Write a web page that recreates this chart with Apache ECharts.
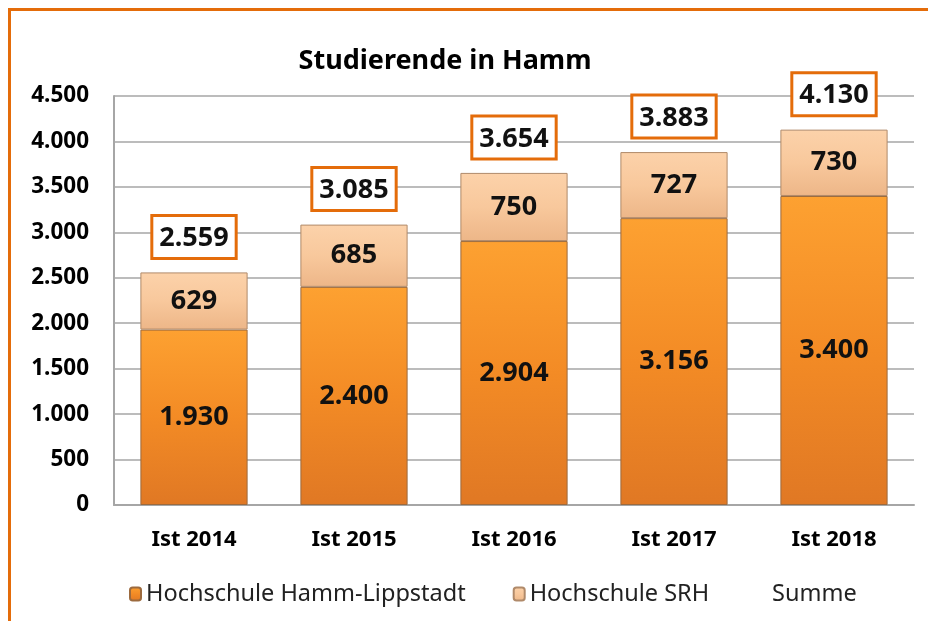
<!DOCTYPE html>
<html lang="de">
<head>
<meta charset="UTF-8">
<title>Studierende in Hamm</title>
<script src="https://cdn.jsdelivr.net/npm/echarts@6/dist/echarts.min.js"></script>
<style>
  html, body { margin: 0; padding: 0; background: #fff; }
  #frame { position: absolute; left: 8px; top: 8px; width: 940px; height: 640px; border: 3px solid #E46C0A; box-sizing: border-box; }
  #main { position: absolute; left: 0; top: 0; width: 928px; height: 621px; }
</style>
</head>
<body>
<div id="frame"></div>
<div id="main"></div>
<script type="text/javascript">
  var years = ['Ist 2014', 'Ist 2015', 'Ist 2016', 'Ist 2017', 'Ist 2018'];
  var hammLippstadt = [1930, 2400, 2904, 3156, 3400];
  var srh = [629, 685, 750, 727, 730];
  var summe = [2559, 3085, 3654, 3883, 4130];

  var font = '"Noto Sans", sans-serif';

  function de(v) {
    return String(v).replace(/\B(?=(\d{3})+(?!\d))/g, '.');
  }

  var myChart = echarts.init(document.getElementById('main'));

  var option = {
    animation: false,
    title: {
      text: 'Studierende in Hamm',
      left: 440,
      textAlign: 'center',
      top: 43,
      textStyle: { fontFamily: font, fontSize: 27, fontWeight: 'bold', color: '#000' }
    },
    grid: { left: 114, right: 14, top: 96, bottom: 116 },
    legend: {
      left: 124,
      top: 577,
      itemWidth: 11,
      itemHeight: 13,
      itemGap: 47,
      textStyle: { fontFamily: font, fontSize: 23.5, color: '#222' },
      data: [
        { name: 'Hochschule Hamm-Lippstadt' },
        { name: 'Hochschule SRH' },
        { name: 'Summe', icon: 'none' }
      ]
    },
    xAxis: {
      type: 'category',
      data: years,
      axisLine: { lineStyle: { color: '#a6a6a6', width: 2 } },
      axisTick: { show: false },
      axisLabel: { margin: 24, fontFamily: font, fontSize: 22, fontWeight: 'bold', color: '#000' }
    },
    yAxis: {
      type: 'value',
      min: 0,
      max: 4500,
      interval: 500,
      axisLine: { show: true, lineStyle: { color: '#a6a6a6', width: 2 } },
      axisTick: { show: false },
      splitLine: { lineStyle: { color: '#a6a6a6', width: 1.5 } },
      axisLabel: {
        margin: 25,
        fontFamily: font, fontSize: 22.5, fontWeight: 'bold', color: '#000',
        formatter: function (v) { return de(v); }
      }
    },
    series: [
      {
        name: 'Hochschule Hamm-Lippstadt',
        type: 'bar',
        stack: 'total',
        barWidth: '67%',
        data: hammLippstadt,
        itemStyle: {
          color: new echarts.graphic.LinearGradient(0, 0, 0, 1, [
            { offset: 0, color: '#FDA131' },
            { offset: 0.5, color: '#F38B25' },
            { offset: 1, color: '#E07824' }
          ]),
          borderColor: '#9C6A3E',
          borderWidth: 1
        },
        label: {
          show: true,
          position: 'inside',
          fontFamily: font, fontSize: 27, fontWeight: 'bold', color: '#111',
          formatter: function (p) { return de(p.value); }
        }
      },
      {
        name: 'Hochschule SRH',
        type: 'bar',
        stack: 'total',
        data: srh,
        itemStyle: {
          color: new echarts.graphic.LinearGradient(0, 0, 0, 1, [
            { offset: 0, color: '#FCD2AA' },
            { offset: 0.5, color: '#F8C89C' },
            { offset: 1, color: '#EDB688' }
          ]),
          borderColor: '#B08A6A',
          borderWidth: 1
        },
        label: {
          show: true,
          position: 'inside',
          fontFamily: font, fontSize: 27, fontWeight: 'bold', color: '#111',
          formatter: function (p) { return de(p.value); }
        }
      },
      {
        name: 'Summe',
        type: 'scatter',
        data: summe,
        symbol: 'circle',
        symbolSize: 1,
        itemStyle: { color: 'rgba(0,0,0,0)', opacity: 1 },
        z: 5,
        label: {
          show: true,
          position: 'top',
          distance: 15,
          opacity: 1,
          fontFamily: font, fontSize: 27, fontWeight: 'bold', color: '#111',
          textBorderWidth: 0,
          textBorderColor: 'transparent',
          backgroundColor: '#fff',
          borderColor: '#E46C0A',
          borderWidth: 3,
          padding: [8, 6, 5, 6],
          formatter: function (p) { return de(p.value); }
        }
      }
    ]
  };

  myChart.setOption(option);
</script>
</body>
</html>
